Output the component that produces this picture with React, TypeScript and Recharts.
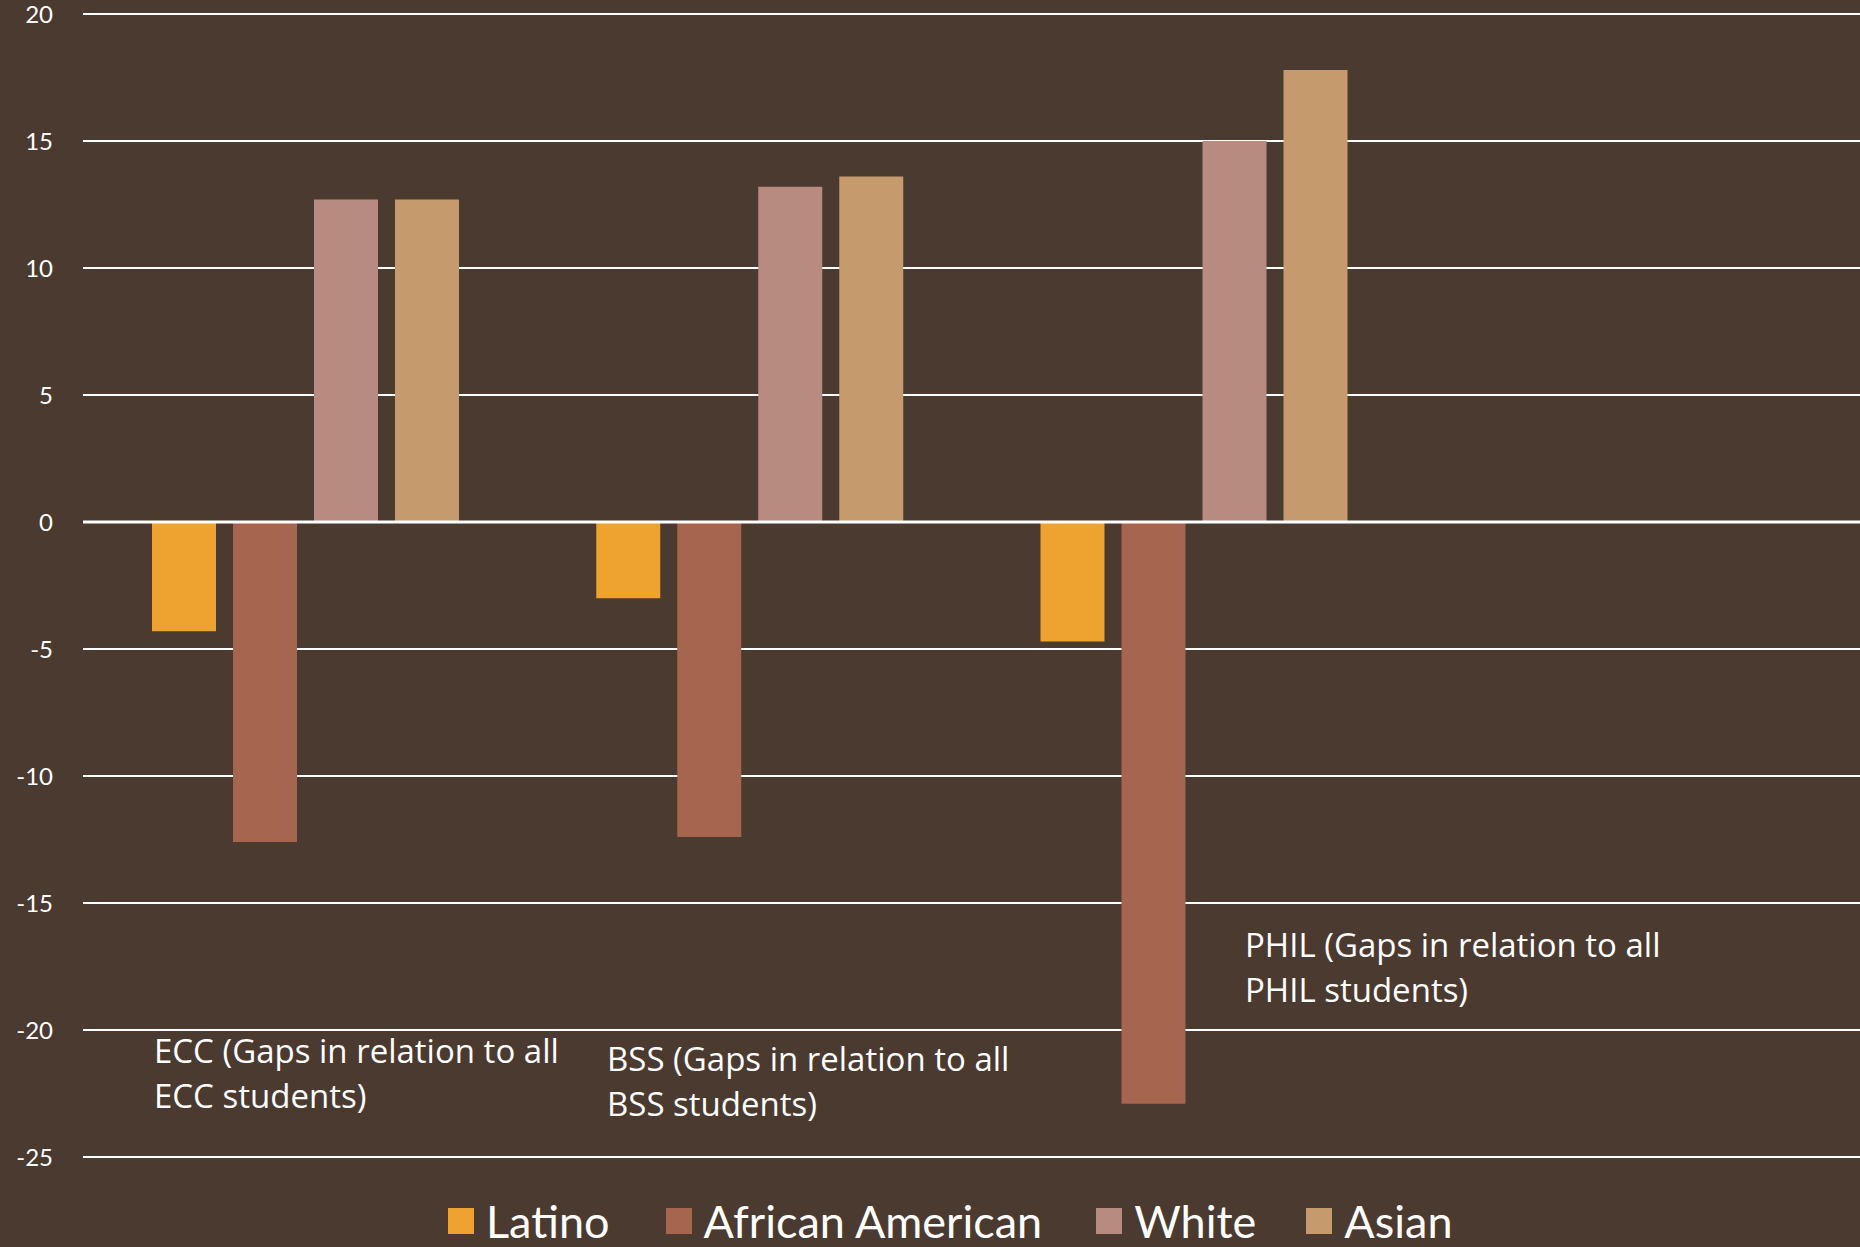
import { BarChart, Bar, XAxis, YAxis, CartesianGrid, ReferenceLine } from 'recharts';

const categories = ['ECC', 'BSS', 'PHIL', ''];
const latino = [-4.3, -3.0, -4.7, null];
const africanAmerican = [-12.6, -12.4, -22.9, null];
const white = [12.7, 13.2, 15.0, null];
const asian = [12.7, 13.6, 17.8, null];
const yTicks = [-25, -20, -15, -10, -5, 0, 5, 10, 15, 20];

const series = [
  { key: 'latino', name: 'Latino', color: '#EEA22F' },
  { key: 'africanAmerican', name: 'African American', color: '#A5654E' },
  { key: 'white', name: 'White', color: '#B78B80' },
  { key: 'asian', name: 'Asian', color: '#C59A6C' },
];

const notes = [
  { lines: ['ECC (Gaps in relation to all', 'ECC students)'], left: 154, top: 1028 },
  { lines: ['BSS (Gaps in relation to all', 'BSS students)'], left: 607, top: 1036 },
  { lines: ['PHIL (Gaps in relation to all', 'PHIL students)'], left: 1245, top: 922 },
];

const data = categories.map((name, i) => ({
  name,
  latino: latino[i],
  africanAmerican: africanAmerican[i],
  white: white[i],
  asian: asian[i],
}));

const BG = '#4B3A2F';
const FONT = 'Lato, "Open Sans", sans-serif';

const App = () => {
  return (
    <div style={{ position: 'relative', width: 1860, height: 1247, background: BG, overflow: 'hidden', fontFamily: FONT }}>
      <style>{'body{margin:0;}'}</style>
      <BarChart
        width={1860}
        height={1247}
        data={data}
        margin={{ top: 14, right: 0, left: 0, bottom: 90 }}
        barSize={64}
        barGap={17}
      >
        <CartesianGrid vertical={false} stroke="#FFFFFF" strokeWidth={2} />
        <XAxis dataKey="name" hide />
        <YAxis
          width={83}
          domain={[-25, 20]}
          ticks={yTicks}
          interval={0}
          axisLine={false}
          tickLine={false}
          tickMargin={24}
          tick={{ fill: '#FFFFFF', fontSize: 24, fontFamily: FONT }}
        />
        {series.map((s) => (
          <Bar key={s.key} dataKey={s.key} name={s.name} fill={s.color} isAnimationActive={false} />
        ))}
        <ReferenceLine y={0} stroke="#FFFFFF" strokeWidth={3} />
      </BarChart>

      {notes.map((n) => (
        <div
          key={n.lines[0]}
          style={{ position: 'absolute', left: n.left, top: n.top, color: '#FFFFFF', fontFamily: '"Open Sans", sans-serif', fontSize: 33, lineHeight: '45px', whiteSpace: 'nowrap' }}
        >
          {n.lines.map((l) => (
            <div key={l}>{l}</div>
          ))}
        </div>
      ))}

      <div style={{ position: 'absolute', left: 448, top: 1199, display: 'flex', alignItems: 'center', color: '#FFFFFF', fontSize: 45, lineHeight: '44px' }}>
        {series.map((s, i) => (
          <div key={s.key} style={{ display: 'flex', alignItems: 'center', marginRight: [56, 54, 50, 0][i] }}>
            <div style={{ width: 26, height: 26, background: s.color, marginRight: 12 }} />
            <span>{s.name}</span>
          </div>
        ))}
      </div>
    </div>
  );
};

export default App;
